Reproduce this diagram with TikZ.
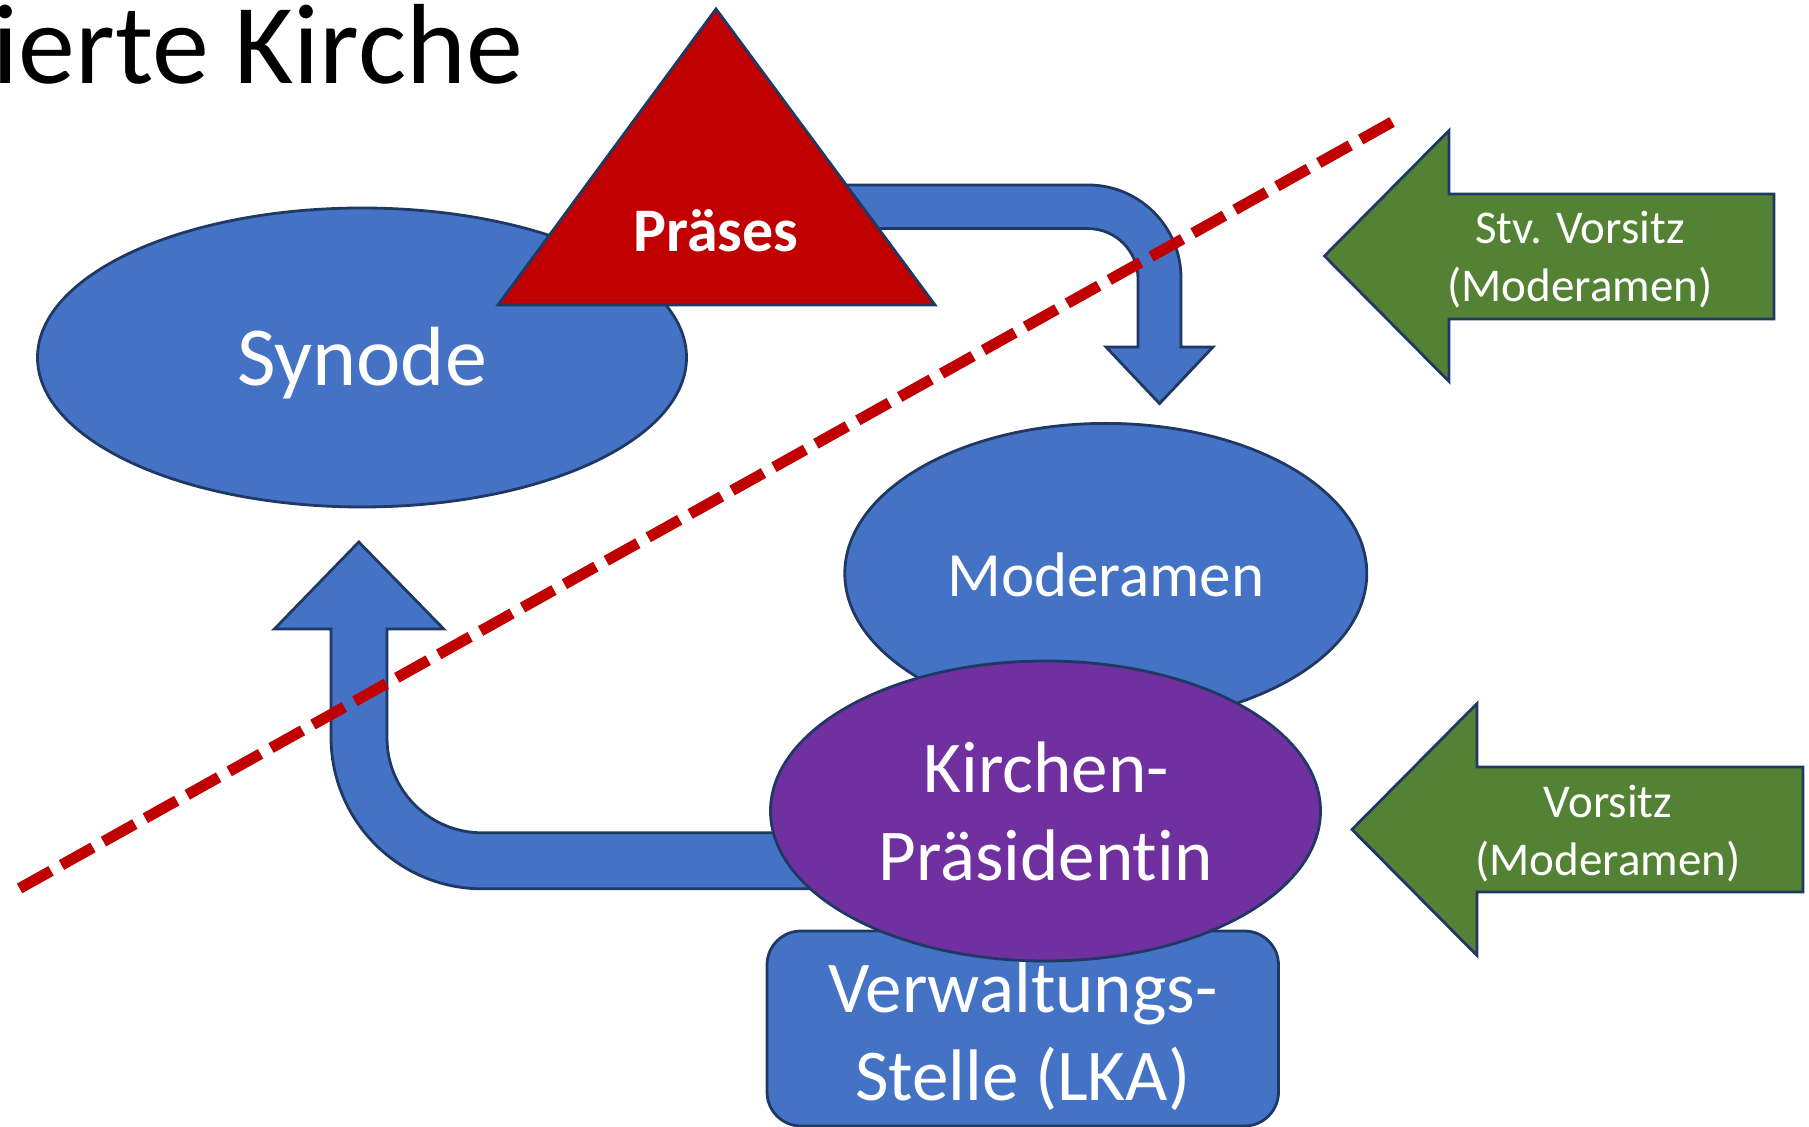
\documentclass[tikz,border=0pt]{standalone}
\usepackage{fontspec}
\setmainfont{Carlito}[Ligatures=NoCommon]
\usetikzlibrary{shapes.geometric}
\definecolor{fillblue}{HTML}{4472C4}
\definecolor{edgeblue}{HTML}{1F3864}
\definecolor{darkred}{HTML}{C00000}
\definecolor{violet}{HTML}{7030A0}
\definecolor{leafgreen}{HTML}{548235}
\tikzset{
  shapeline/.style={draw=edgeblue, line width=1.4pt},
  blob/.style={ellipse, shapeline, inner sep=0pt, outer sep=0pt},
  blockarrow/.style={shapeline, fill=fillblue, line join=miter},
  greenarrow/.style={shapeline, fill=leafgreen, line join=miter},
  label/.style={text=white, inner sep=0pt, anchor=base},
  cutline/.style={draw=darkred, line width=5.5pt, dash pattern=on 18pt off 6pt},
}
\begin{document}
\begin{tikzpicture}[x=0.5pt, y=-0.5pt]
\useasboundingbox (0,0) rectangle (1809,1127);

% heading
\node[anchor=base west, inner sep=0pt, font=\fontsize{57}{68}\selectfont] (title) at (-8,84) {ierte Kirche};

% synod
\node[blob, fill=fillblue, minimum width=324.5pt, minimum height=149.5pt] (synode) at (362,357.5) {};
\node[label, font=\fontsize{42}{50}\selectfont] (synodetxt) at (362,386) {Synode};

% bent arrow from the Praeses down to the Moderamen
\coordinate (topstart) at (800,185);
\draw[blockarrow] (topstart) -- (1088,185)
  .. controls (1139.4,185) and (1181,226.6) .. (1181,278)
  -- (1181,347) -- (1213,347) -- (1159.5,403.6) -- (1106,347) -- (1138,347)
  -- (1138,278.6) .. controls (1138,251) and (1115.6,228.6) .. (1088,228.6)
  -- (800,228.6) -- cycle;

% Praeses triangle
\coordinate (apex) at (716,9);
\coordinate (baseL) at (498,305);
\coordinate (baseR) at (935,305);
\draw[shapeline, fill=darkred, line join=miter] (apex) -- (baseR) -- (baseL) -- cycle;
\node[label, font=\fontsize{31}{37}\bfseries] (praeses) at (716,251.5) {Präses};

% Moderamen
\node[blob, fill=fillblue, minimum width=261pt, minimum height=150pt] (moderamen) at (1105.8,573.4) {};
\node[label, font=\fontsize{31.5}{38}\selectfont] (modtxt) at (1105.8,596.5) {Moderamen};

% bent arrow from the church president up to the synod
\coordinate (botstart) at (830,832.8);
\draw[blockarrow] (botstart) -- (482,832.8)
  .. controls (429.5,832.8) and (387,790.3) .. (387,737.8)
  -- (387,629) -- (443.7,629) -- (358.8,542) -- (274.4,629) -- (331,629)
  -- (331,737) .. controls (331,820.8) and (398.6,888.8) .. (482,888.8)
  -- (830,888.8) -- cycle;

% administration
\node[rectangle, shapeline, fill=fillblue, rounded corners=17pt, minimum width=255.75pt, minimum height=97.5pt, inner sep=0pt, outer sep=0pt] (lka) at (1022.75,1028.5) {};
\node[label, font=\fontsize{36.5}{44}\selectfont] (lka1) at (1022.75,1012) {Verwaltungs-};
\node[label, font=\fontsize{36.5}{44}\selectfont] (lka2) at (1022.75,1100.8) {Stelle (LKA)};

% church president
\node[blob, fill=violet, minimum width=275pt, minimum height=150pt] (praesidentin) at (1045.5,811) {};
\node[label, font=\fontsize{36.5}{44}\selectfont] (kp1) at (1046,792) {Kirchen-};
\node[label, font=\fontsize{36.5}{44}\selectfont] (kp2) at (1045.5,880.7) {Präsidentin};

% green pointers
\draw[greenarrow] (1324.5,256) -- (1449,130.5) -- (1449,194) -- (1774,194)
  -- (1774,319) -- (1449,319) -- (1449,381.5) -- cycle;
\node[label, font=\fontsize{23.5}{29}\selectfont] (stv1) at (1580,244) {Stv. Vorsitz};
\node[label, font=\fontsize{23.5}{29}\selectfont] (stv2) at (1580,302) {(Moderamen)};

\draw[greenarrow] (1352,829.5) -- (1477,703.5) -- (1477,767) -- (1803,767)
  -- (1803,892) -- (1477,892) -- (1477,955.5) -- cycle;
\node[label, font=\fontsize{23.5}{29}\selectfont] (vs1) at (1608,817) {Vorsitz};
\node[label, font=\fontsize{23.5}{29}\selectfont] (vs2) at (1608,875.4) {(Moderamen)};

% dividing line
\coordinate (cutA) at (19.6,888.4);
\coordinate (cutB) at (1393.7,121.1);
\draw[cutline] (cutA) -- (cutB);
\end{tikzpicture}
\end{document}
